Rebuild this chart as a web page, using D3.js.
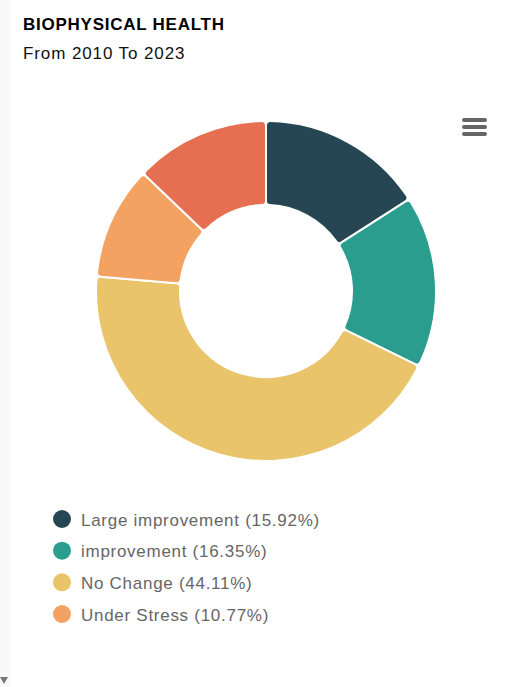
<!DOCTYPE html>
<html><head><meta charset="utf-8">
<script src="https://cdn.jsdelivr.net/npm/d3@7"></script>
<style>
html,body{margin:0;padding:0;background:#fff;overflow:hidden;}
svg{display:block;font-family:Arial,"Liberation Sans",sans-serif;}
</style></head>
<body>
<svg id="chart" width="512" height="687"></svg>
<script>
const categories = ["Large improvement", "improvement", "No Change", "Under Stress", "Severe Stress"];
const values = [15.92, 16.35, 44.11, 10.77, 12.85];
const colors = ["#264653", "#2a9d8f", "#e9c46a", "#f4a261", "#e76f51"];
const legendCount = 4;
const title = "BIOPHYSICAL HEALTH";
const subtitle = "From 2010 To 2023";

const svg = d3.select("#chart");
// left faint strip
svg.append("rect").attr("x",0).attr("y",0).attr("width",11).attr("height",687).attr("fill","#f9f9f9");
svg.append("path").attr("d","M0,677 L8,677 L4,684 Z").attr("fill","#777");

svg.append("text").attr("x",23).attr("y",30).attr("font-size",17).attr("letter-spacing",0.75)
  .attr("font-weight","bold").attr("fill","#000").text(title);
svg.append("text").attr("x",23).attr("y",59).attr("font-size",17).attr("letter-spacing",0.9)
  .attr("fill","#111").text(subtitle);

// menu icon
[120,127,134].forEach(y=>{
  svg.append("rect").attr("x",462).attr("y",y-2).attr("width",25).attr("height",4).attr("rx",2).attr("fill","#666");
});

const data = categories.map((c,i)=>({name:c, value:values[i], color:colors[i]}));
const pie = d3.pie().value(d=>d.value).sort(null);
const arc = d3.arc().innerRadius(86).outerRadius(170).cornerRadius(4);
const g = svg.append("g").attr("transform","translate(266,291)");
g.selectAll("path").data(pie(data)).join("path")
  .attr("d",arc).attr("fill",d=>d.data.color)
  .attr("stroke","#fff").attr("stroke-width",2).attr("stroke-linejoin","round");

const y = d3.scalePoint().domain(categories.slice(0,legendCount)).range([519,614]);
const lg = svg.append("g");
data.slice(0,legendCount).forEach(d=>{
  lg.append("circle").attr("cx",62).attr("cy",y(d.name)).attr("r",9).attr("fill",d.color);
  lg.append("text").attr("x",81).attr("y",y(d.name)+6.5).attr("font-size",17).attr("letter-spacing",0.72)
    .attr("fill","#666").text(`${d.name} (${d.value.toFixed(2)}%)`);
});
</script>
</body></html>
